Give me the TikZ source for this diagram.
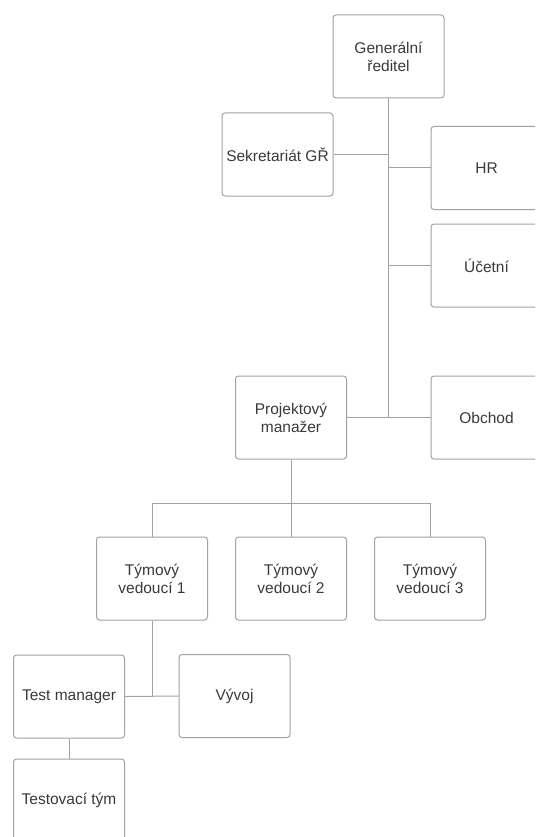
\documentclass[tikz,border=0pt]{standalone}
\usepackage{fontspec}
\setmainfont{Liberation Sans}
\usepackage{xcolor}
\definecolor{boxgray}{HTML}{A2A2A2}
\definecolor{textgray}{HTML}{3A3A3A}
\usetikzlibrary{positioning,calc}
\tikzset{
    orgbox/.style={draw=boxgray, line width=1pt, rounded corners=3pt, fill=white,
        minimum width=111pt, minimum height=83pt, align=center, text=textgray,
        font=\fontsize{15.5}{18}\selectfont},
    orgline/.style={draw=boxgray, line width=1pt}
}

\begin{document}
\begin{tikzpicture}[x=1pt,y=-1pt]
    \useasboundingbox (0,0) rectangle (535,837);
    \clip (0,0) rectangle (535,837);

    % upper part
    \node[orgbox] (gr) at (388.5,56.5) {Generální\\ředitel};
    \node[orgbox] (sekr) at (277.5,154.5) {Sekretariát GŘ};
    \node[orgbox] (hr) at (486.5,168) {HR};
    \node[orgbox] (ucetni) at (486.5,265.5) {Účetní};
    \node[orgbox] (pm) at (291,417.5) {Projektový\\manažer};
    \node[orgbox] (obchod) at (486.5,417.5) {Obchod};

    \coordinate (trunk) at (gr.south |- pm.east);
    \draw[orgline] (gr.south) -- (trunk);
    \draw[orgline] (pm.east) -- (obchod.west);
    \draw[orgline] (sekr.east) -- (gr.south |- sekr.east);
    \draw[orgline] (gr.south |- hr.west) -- (hr.west);
    \draw[orgline] (gr.south |- ucetni.west) -- (ucetni.west);

    % team leaders
    \node[orgbox] (tv1) at (152,578.5) {Týmový\\vedoucí 1};
    \node[orgbox] (tv2) at (291,578.5) {Týmový\\vedoucí 2};
    \node[orgbox] (tv3) at (430,578.5) {Týmový\\vedoucí 3};

    \coordinate (pmfork) at ($(pm.south)+(0,44)$);
    \draw[orgline] (pm.south) -- (tv2.north);
    \draw[orgline] (tv1.north) |- (pmfork) -| (tv3.north);

    % lower part
    \node[orgbox] (tm) at (69,696.5) {Test manager};
    \node[orgbox] (vyvoj) at (234.5,696) {Vývoj};
    \node[orgbox] (tt) at (69,800.5) {Testovací tým};

    \draw[orgline] (tv1.south) -- (tv1.south |- tm.east);
    \draw[orgline] (tm.east) -- (vyvoj.west);
    \draw[orgline] (tm.south) -- (tt.north);
\end{tikzpicture}
\end{document}
